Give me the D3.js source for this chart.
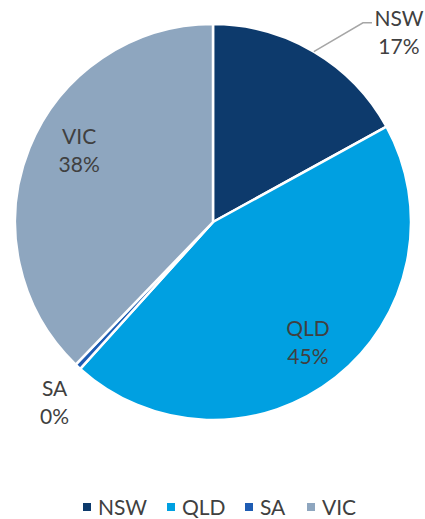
<!DOCTYPE html>
<html>
<head>
<meta charset="utf-8">
<script src="https://cdn.jsdelivr.net/npm/d3@7"></script>
<style>
  body { margin: 0; background: #fff; }
  text { font-family: Lato, "Open Sans", sans-serif; fill: #404040; }
</style>
</head>
<body>
<svg id="chart" width="425" height="519"></svg>
<script>
var states = ["NSW", "QLD", "SA", "VIC"];
var shares = [17.0, 44.7, 0.5, 37.8];
var shareLabels = ["17%", "45%", "0%", "38%"];
var colours = ["#0d3a6c", "#00a0e1", "#1e5cb3", "#8ea6bf"];

var svg = d3.select("#chart");
var cx = 213, cy = 222, radius = 198;

var pie = d3.pie().sort(null).value(function (d) { return d; });
var arcs = pie(shares);
var arc = d3.arc().innerRadius(0).outerRadius(radius);

var g = svg.append("g").attr("transform", "translate(" + cx + "," + cy + ")");

g.selectAll("path.slice")
  .data(arcs)
  .enter().append("path")
  .attr("class", "slice")
  .attr("d", arc)
  .attr("fill", function (d, i) { return colours[i]; })
  .attr("stroke", "#fff")
  .attr("stroke-width", 2.5)
  .attr("stroke-linejoin", "round");

// label placement: radius for each label, NSW is pulled outside with a leader
var labelRadius = [266, 153, 240, 152];
var labelAngleShift = [0.24, 0, -0.03, 0.11];

function labelPos(d, i) {
  var a = (d.startAngle + d.endAngle) / 2 + labelAngleShift[i];
  return [Math.sin(a) * labelRadius[i], -Math.cos(a) * labelRadius[i]];
}

// leader line for NSW
var nsw = arcs[0];
var mid = (nsw.startAngle + nsw.endAngle) / 2;
var p0 = [Math.sin(mid) * radius, -Math.cos(mid) * radius];
var lp = labelPos(nsw, 0);
g.append("polyline")
  .attr("points", [p0, [lp[0] - 36, lp[1] - 9], [lp[0] - 27, lp[1] - 9]].map(function (p) { return p.join(","); }).join(" "))
  .attr("fill", "none")
  .attr("stroke", "#a6a6a6")
  .attr("stroke-width", 1.5);

var labels = g.selectAll("text.lbl")
  .data(arcs)
  .enter().append("text")
  .attr("class", "lbl")
  .attr("text-anchor", "middle")
  .attr("font-size", "21px")
  .attr("transform", function (d, i) {
    var p = labelPos(d, i);
    return "translate(" + p[0] + "," + p[1] + ")";
  });
labels.append("tspan").attr("x", 0).attr("y", -6).text(function (d, i) { return states[i]; });
labels.append("tspan").attr("x", 0).attr("y", 22).text(function (d, i) { return shareLabels[i]; });

// legend
var legendX = d3.scaleOrdinal().domain(states).range([83, 167, 245, 307]);
var leg = svg.selectAll("g.leg")
  .data(states)
  .enter().append("g")
  .attr("class", "leg")
  .attr("transform", function (d) { return "translate(" + legendX(d) + ",507)"; });
leg.append("rect")
  .attr("x", 0).attr("y", -4)
  .attr("width", 8).attr("height", 8)
  .attr("fill", function (d, i) { return colours[i]; });
leg.append("text")
  .attr("x", 15).attr("y", 8)
  .attr("font-size", "21px")
  .text(function (d) { return d; });
</script>
</body>
</html>
